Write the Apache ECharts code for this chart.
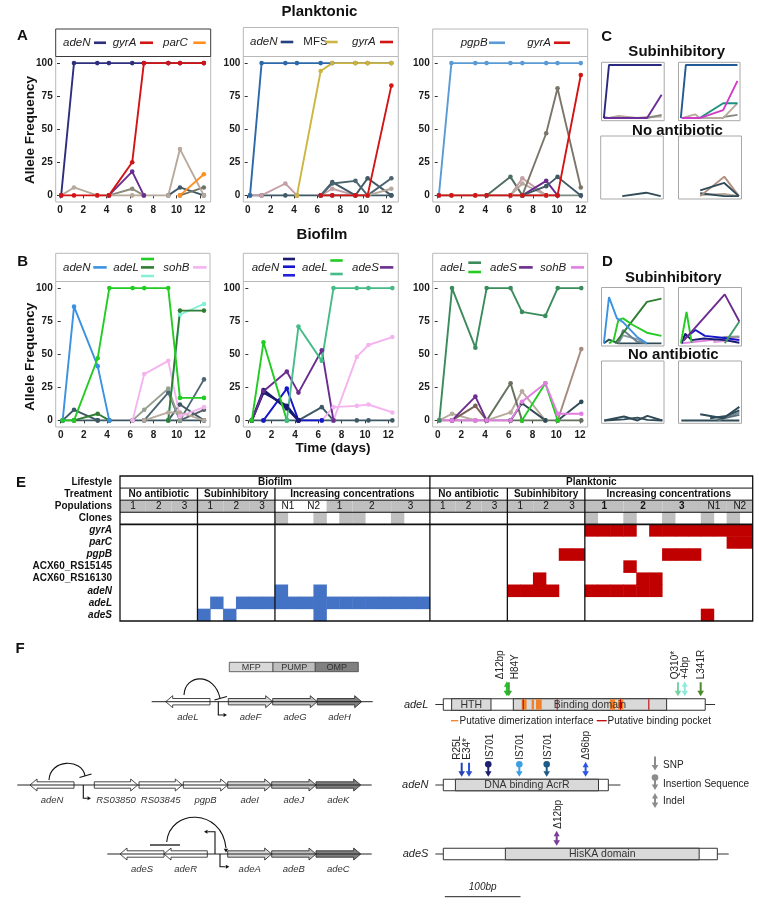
<!DOCTYPE html>
<html><head><meta charset="utf-8">
<script src="https://cdn.jsdelivr.net/npm/echarts@6/dist/echarts.min.js"></script>
<style>html,body{margin:0;padding:0;background:#fff}#c{width:759px;height:905px}</style>
</head><body><div id="c"></div>
<script>
const FONT = 'Liberation Sans, Arial, sans-serif';

// ---------------- Panel A (Planktonic) data ----------------
const xA1 = [0.1,1.2,3.2,4.2,6.2,7.2,9.3,10.3,12.35];
const A1_adeN  = [0,100,100,100,100,100,100,100,100];
const A1_gyrA  = [0,0,0,0,25,100,100,100,100];
const A1_parC  = [null,null,null,null,null,null,null,0,16];
const A1_purple= [null,null,null,0,18,0,null,null,null];
const A1_beige = [0,6,0,0,0,0,0,35,0];
const A1_olive = [null,null,null,0,5,0,null,null,null];
const A1_slate1= [null,null,null,null,null,null,0,6,0];
const A1_slate2= [null,null,null,null,null,null,null,0,6];

const xA2 = [0.2,1.2,3.25,4.25,6.3,7.3,9.3,10.35,12.4];
const A2_adeN  = [0,100,100,100,100,100,100,100,100];
const A2_MFS   = [null,null,null,0,94,100,100,100,100];
const A2_gyrA  = [null,null,null,null,0,0,0,0,83];
const A2_mauve1= [0,0,9,0,null,null,null,null,null];
const A2_mauve2= [null,null,null,null,0,5,0,null,null];
const A2_base  = [0,0,0,0,0,0,0,0,0];
const A2_slate1= [null,null,null,null,0,10,0,13,0];
const A2_slate2= [null,null,null,null,0,9,11,0,13];
const A2_beige = [null,null,null,null,null,null,null,0,5];

const xA3 = [0.1,1.15,3.15,4.1,6.1,7.1,9.1,10.05,12.0];
const A3_pgpB  = [0,100,100,100,100,100,100,100,100];
const A3_gyrA  = [0,0,0,0,0,0,0,0,91];
const A3_brown = [null,null,null,null,null,0,47,81,6];
const A3_green = [null,null,null,0,14,0,null,null,null];
const A3_mauve = [null,null,null,null,0,13,0,null,null];
const A3_beige = [null,null,null,null,0,9,0,null,null];
const A3_purple= [null,null,null,null,null,0,11,0,null];
const A3_slate = [null,null,null,null,null,0,7,14,0];
const A3_base  = [0,0,0,0,0,0,0,0,0];

// ---------------- Panel B (Biofilm) data ----------------
const xB1 = [0.17,1.15,3.19,4.19,6.2,7.2,9.27,10.28,12.35];
const B1_adeN  = [0,86,41,0,null,null,null,null,null];
const B1_adeL1 = [0,0,47,100,100,100,100,17,17];
const B1_adeL2 = [null,0,5,0,null,null,0,83,83];
const B1_adeL3 = [null,null,null,null,null,null,0,80,88];
const B1_sohB  = [null,null,null,null,0,35,45,3,10];
const B1_slate1= [0,8,0,null,null,null,null,null,null];
const B1_slateA= [null,null,null,null,null,0,21,0,31];
const B1_slateB= [null,null,null,null,null,null,0,12,0];
const B1_slateC= [null,null,null,null,null,null,null,0,8];
const B1_gray  = [null,null,null,null,0,8,24,0,null];
const B1_beige = [null,null,null,null,null,0,6,6,0];
const B1_base  = [0,0,0,0,0,0,0,0,0];

const xB2 = [0.3,1.3,3.3,4.3,6.3,7.3,9.3,10.3,12.35];
const B2_adeL1 = [0,59,0,null,null,null,null,null,null];
const B2_adeL2 = [null,null,0,71,45,100,100,100,100];
const B2_adeS  = [0,22,37,21,53,0,null,null,null];
const B2_adeN1 = [0,23,9,0,null,null,null,null,null];
const B2_adeN2 = [0,21,11,0,null,null,null,null,null];
const B2_adeN3 = [null,0,24,0,0,null,null,null,null];
const B2_sohB1 = [null,null,null,null,null,0,48,57,63];
const B2_sohB2 = [null,null,null,null,0,10,11,12,6];
const B2_slate = [null,null,null,0,10,0,null,null,null];
const B2_base  = [0,0,0,0,0,0,0,0,0];

const xB3 = [0.14,1.21,3.18,4.13,6.15,7.11,9.08,10.12,12.11];
const B3_adeL1 = [0,100,55,100,100,82,79,100,100];
const B3_adeL2 = [null,null,null,null,null,0,28,0,null];
const B3_adeS  = [null,0,18,0,null,null,null,null,null];
const B3_sohB  = [0,0,0,0,0,14,28,5,5];
const B3_brown = [null,null,null,null,null,null,null,0,54];
const B3_olive = [null,null,null,0,28,0,null,null,null];
const B3_beige1= [0,5,0,null,null,null,null,null,null];
const B3_beige2= [null,null,null,0,6,22,0,null,null];
const B3_brown2= [null,0,11,0,null,null,null,null,null];
const B3_slate1= [null,null,null,null,0,13,0,null,null];
const B3_slate2= [null,null,null,null,null,null,null,0,14];
const B3_base  = [0,0,0,0,0,0,0,0,0];

// ---------------- Panels C / D small multiples ([day, frequency]) ----------------
const C1_navy   = [[0.1,0],[1.2,100],[3.2,100],[4.2,100],[6.2,100],[7.2,100],[9.3,100],[10.3,100],[12.4,100]];
const C1_purple = [[0.1,0],[9.3,0],[12.4,44]];
const C1_beige  = [[0.1,3],[1.2,0],[3.2,4],[4.2,3],[7.2,0],[9.3,2],[12.4,3]];
const C1_gray   = [[9.3,0],[12.4,6]];
const C2_blue   = [[0.1,0],[1.2,100],[3.2,100],[4.2,100],[6.2,100],[7.2,100],[9.3,100],[10.3,100],[12.4,100]];
const C2_magenta= [[0.3,0],[4.2,0],[9.3,15],[12.4,70]];
const C2_teal   = [[4.2,0],[9.3,28],[12.4,28]];
const C2_beige  = [[0.3,0],[3.2,7],[4.2,0],[9.3,0],[12.4,28]];
const C2_gray   = [[9.3,2],[12.4,6]];
const C3_slate  = [[4.2,0],[9.3,6],[12.4,0]];
const C4_mauve  = [[4.2,0],[9.3,34],[12.4,0]];
const C4_slate1 = [[4.2,10],[9.3,23],[12.4,0]];
const C4_slate2 = [[4.2,5],[9.3,0],[12.4,0]];
const C4_beige  = [[4.2,2],[9.3,4],[12.4,0]];

const D1_blue   = [[0.1,0],[1.2,87],[2.9,47],[4.2,40],[7.2,12],[9.3,0]];
const D1_green  = [[1.2,0],[2.2,6],[3.2,44],[4.2,47],[6.2,35],[9.3,20],[12.4,14]];
const D1_dgreen = [[2.5,0],[9.3,78],[12.4,84]];
const D1_gray1  = [[3.2,0],[4.2,25],[7.2,3],[9.3,0]];
const D1_gray2  = [[3.2,0],[4.2,15],[7.2,8],[9.3,0]];
const D1_slate  = [[0.1,0],[1.2,7],[3.2,0],[12.4,0]];
const D2_purple = [[0.7,5],[9.4,92],[12.5,41]];
const D2_green  = [[0.1,0],[1.3,59],[2.4,1]];
const D2_sgreen = [[9.4,0],[12.5,41]];
const D2_navy   = [[0.3,0],[1.0,18],[2.4,6],[5.0,9],[9.4,6],[12.5,1]];
const D2_blue   = [[1.0,10],[3.2,25],[5.2,14],[9.4,10],[12.5,6]];
const D2_violet = [[0.1,0],[12.5,12]];
const D2_gray   = [[7.0,5],[9.4,12],[12.5,13]];
const D2_pink   = [[7.0,2],[12.5,8]];
const D3_s1     = [[0.2,0],[4.4,7],[7.3,0],[9.4,8],[12.6,0]];
const D3_s2     = [[0.2,0],[4.4,2],[7.3,5],[9.4,1],[12.6,0]];
const D4_s1     = [[4.2,11],[9.1,4],[12.5,24]];
const D4_s2     = [[6.3,4],[9.8,8],[12.5,18]];
const D4_s3     = [[7.7,1],[12.5,10]];
const D4_s4     = [[0.2,0],[12.5,0]];
const D4_s5     = [[8.0,0],[10.0,6],[12.5,14]];

// ---------------- Panel E (table) data ----------------
const eRows = ['Lifestyle','Treatment','Populations','Clones','gyrA','parC','pgpB','ACX60_RS15145','ACX60_RS16130','adeN','adeL','adeS'];
const eUnits = Array.from({length:49},(_,i)=>String(i));
const eLifestyle = [['Biofilm',0,23],['Planktonic',24,48]];
const eTreatment = [['No antibiotic',0,5],['Subinhibitory',6,11],['Increasing concentrations',12,23],['No antibiotic',24,29],['Subinhibitory',30,35],['Increasing concentrations',36,48]];
const ePopulations = [['1',0,1],['2',2,3],['3',4,5],['1',6,7],['2',8,9],['3',10,11],['N1',12,13],['N2',14,15],['1',16,17],['2',18,20],['3',21,23],['1',24,25],['2',26,27],['3',28,29],['1',30,31],['2',32,33],['3',34,35],['1',36,38],['2',39,41],['3',42,44],['N1',45,46],['N2',47,48]];
const eCloneCells = [12,15,17,18,21,36,39,42,45,47];
// [geneRow (0 = gyrA), firstUnit, lastUnit]
const eBlue = [[5,12,12],[5,15,15],[6,7,7],[6,9,23],[7,6,6],[7,8,8],[7,15,15]];
const eRed  = [[0,36,39],[0,41,48],[1,47,48],[2,34,35],[2,42,44],[3,39,39],[4,32,32],[4,40,41],[5,30,33],[5,36,41],[7,45,45]];

// ---------------- Panel F data ----------------
const fTrackY = [704.5, 785, 854];
const fGeneName = ['adeL','adeN','adeS'];
const fGeneLen = [346, 218, 362];
const fStubRight = [13, 16, 15];
const fDomTrack = [0,0,1,2];
const fDomStart = [11, 92.5, 16, 82];
const fDomEnd   = [63, 295, 205, 338];
const fDomText  = ['HTH','Binding domain','DNA binding AcrR','HisKA domain'];
const fDimer = [[103.5,110],[116.7,119.8],[122.5,130],[220,226.8],[231,237.8]];
const fPocket = [104.9,149.8,233.4,270.8];
const fMutTrack = [0,0,0,0,0,1,1,1,1,1,1,2];
const fMutPos   = [84,86.5,310,319,340,24.3,34,59.4,100.4,136.6,188,149.8];
const fMutLabelPos = [75,95,306,319.5,341,18.5,31.7,61.7,101.3,138.7,189.4,152];
const fMutLabel = ['Δ12bp','H84Y','Q310*','+4bp','L341R','R25L','E34*','IS701','IS701','IS701','Δ96bp','Δ12bp'];
const fMutType  = [2,0,0,2,0,0,0,1,1,1,2,2]; // 0 SNP, 1 insertion sequence, 2 indel
const fMutColor = ['#22c322','#3aa63a','#72d2a4','#8eeadb','#4b8b2b','#2342b5','#2b52d2','#1d206e','#3c9fe4','#1f5b88','#2b56e0','#7b3b99'];

// operon schematic
const opTrackY = [701.7, 785, 854];
const opLine = [[151.7,372.7],[17.3,371.7],[107.3,371.7]];
const opGenes = [
 [0,'adeL',165.7,210,-1,0],[0,'adeF',228.3,272.7,1,1],[0,'adeG',272.7,317.3,1,2],[0,'adeH',317.3,361.7,1,3],
 [1,'adeN',30,74,-1,0],[1,'RS03850',94.3,137.7,1,0],[1,'RS03845',139,182.3,1,0],[1,'pgpB',183.3,227.7,1,0],
 [1,'adeI',227.7,271.7,1,1],[1,'adeJ',271.7,316,1,2],[1,'adeK',316,360.7,1,3],
 [2,'adeS',120,164,-1,0],[2,'adeR',164,207.3,-1,0],[2,'adeA',227.7,271.7,1,1],[2,'adeB',271.7,316,1,2],[2,'adeC',316,360.7,1,3]
];
const opFill = ['#ffffff','#d9d9d9','#bdbdbd','#7f7f7f'];

// ---------------- helpers ----------------
const G = [];
function T(text,x,y,o){o=o||{};G.push({type:'text',x:x,y:y,rotation:o.rot||0,silent:true,z:100,style:{text:text,fill:o.color||'#111',fontSize:o.size||10,fontWeight:o.bold?'bold':'normal',fontStyle:o.italic?'italic':'normal',fontFamily:FONT,align:o.align||'center',verticalAlign:o.va||'middle'}});}
function Ln(x1,y1,x2,y2,c,w){G.push({type:'line',silent:true,z:100,shape:{x1:x1,y1:y1,x2:x2,y2:y2},style:{stroke:c,lineWidth:w||1}});}
function Rc(x,y,w,h,fill,stroke,lw){G.push({type:'rect',silent:true,z:90,shape:{x:x,y:y,width:w,height:h},style:{fill:fill,stroke:stroke||null,lineWidth:lw||1}});}

const grids = [
 {left:55.7,top:56.5,width:155,height:145.5},
 {left:243.3,top:56.5,width:155,height:145.5},
 {left:432.7,top:56.5,width:155,height:145.5},
 {left:55.7,top:281.5,width:154.3,height:145.5},
 {left:243.3,top:281.5,width:155,height:145.5},
 {left:432.7,top:281.5,width:155,height:145.5},
 {left:601.5,top:62.3,width:62.7,height:58.4},
 {left:678.5,top:62.3,width:61.5,height:58.4},
 {left:600.7,top:136,width:62.6,height:63},
 {left:678.5,top:136,width:63,height:63},
 {left:601.5,top:287.5,width:62.5,height:58.5},
 {left:678.5,top:287.5,width:63,height:58.5},
 {left:601.5,top:361,width:62.5,height:62.3},
 {left:678.5,top:361,width:63,height:62.3},
 {left:120,top:476,width:632.7,height:145},
 {left:443.3,top:640,width:300,height:265}
];
const xRanges = [[-0.37,12.94],[-0.38,13.0],[-0.42,12.58],[-0.43,12.87],[-0.43,12.86],[-0.42,12.65]];
const xTicks = [0,2,4,6,8,10,12];
const yTicks = [0,25,50,75,100];

const gridOpts = grids.map((g,i)=>Object.assign({}, g, {
  show: i<14, borderColor: i<6 ? '#b8b8b8' : '#a8a8a8', borderWidth:1, backgroundColor:'transparent',
  containLabel:false, outerBoundsMode:'none'
}));

const xAxes = [], yAxes = [];
for (let i=0;i<6;i++){
  xAxes.push({type:'value',gridIndex:i,min:xRanges[i][0],max:xRanges[i][1],axisLine:{show:false},splitLine:{show:false},
    axisTick:{show:true,length:3,lineStyle:{color:'#333',width:1},customValues:xTicks},
    axisLabel:{show:true,customValues:xTicks,fontSize:10,fontWeight:'bold',color:'#1a1a1a',margin:3,fontFamily:FONT}});
  yAxes.push({type:'value',gridIndex:i,min:-5,max:105,axisLine:{show:false},splitLine:{show:false},
    axisTick:{show:true,length:3,lineStyle:{color:'#333',width:1},customValues:yTicks},
    axisLabel:{show:true,customValues:yTicks,fontSize:10,fontWeight:'bold',color:'#1a1a1a',margin:3,fontFamily:FONT}});
}
for (let i=6;i<14;i++){
  xAxes.push({type:'value',gridIndex:i,min:-0.4,max:12.95,show:false});
  yAxes.push({type:'value',gridIndex:i,min:-5,max:105,show:false});
}
const italicRows = new Set(['gyrA','parC','pgpB','adeN','adeL','adeS']);
xAxes.push({type:'category',gridIndex:14,data:eUnits,show:false});
yAxes.push({type:'category',gridIndex:14,data:eRows,inverse:true,axisLine:{show:false},axisTick:{show:false},splitLine:{show:false},
  axisLabel:{margin:8,interval:0,hideOverlap:false,formatter:v=>italicRows.has(v)?'{i|'+v+'}':'{b|'+v+'}',
    rich:{i:{fontStyle:'italic',fontWeight:'bold',fontSize:10,color:'#111',fontFamily:FONT},b:{fontWeight:'bold',fontSize:10,color:'#111',fontFamily:FONT}}}});
xAxes.push({type:'value',gridIndex:15,min:0,max:300/0.757,show:false});
yAxes.push({type:'value',gridIndex:15,min:640,max:905,inverse:true,show:false});

const series = [];
function addLine(gi,xs,vals,color,w){
  series.push({type:'line',xAxisIndex:gi,yAxisIndex:gi,silent:true,animation:false,
    data:xs.map((x,i)=>[x, vals[i]==null?'-':vals[i]]),
    lineStyle:{color:color,width:w||1.9},itemStyle:{color:color},symbol:'circle',symbolSize:4.6,showSymbol:true,connectNulls:false});
}
function addSmall(gi,pairs,color,w){
  series.push({type:'line',xAxisIndex:gi,yAxisIndex:gi,silent:true,animation:false,data:pairs,
    lineStyle:{color:color,width:w||1.9},itemStyle:{color:color},showSymbol:false,symbol:'none'});
}
const C = {navy:'#2d2e7e',red:'#d21414',orange:'#ff8f1f',purple:'#6b2c8f',beige:'#b7a99b',olive:'#8c8b78',slate:'#3f5866',
  blueA:'#2c69a9',gold:'#cdb543',mauve:'#c4a0a6',lblue:'#5b9bd5',brownGray:'#7b766a',greenGray:'#4f6e62',base:'#7d8b82',
  skyB:'#3a92e0',green:'#22cc22',dgreen:'#2f7d32',aqua:'#86f0d6',pink:'#f4b4ef',gray:'#95a08f',navyB:'#1a1a70',blueB:'#1515cc',
  mgreen:'#45bb85',sea:'#3a8c5c',violet:'#e27ee2',brown:'#a58a7d',olive2:'#66705e',brown2:'#7a6058',slate2:'#2f4b57'};

// A1
addLine(0,xA1,A1_olive,C.olive); addLine(0,xA1,A1_slate1,C.slate); addLine(0,xA1,A1_slate2,'#6f7468');
addLine(0,xA1,A1_beige,C.beige); addLine(0,xA1,A1_purple,C.purple); addLine(0,xA1,A1_parC,C.orange);
addLine(0,xA1,A1_adeN,C.navy); addLine(0,xA1,A1_gyrA,C.red);
// A2
addLine(1,xA2,A2_base,C.slate); addLine(1,xA2,A2_mauve1,C.mauve); addLine(1,xA2,A2_mauve2,C.mauve);
addLine(1,xA2,A2_slate1,C.slate); addLine(1,xA2,A2_slate2,'#4a6470'); addLine(1,xA2,A2_beige,C.beige);
addLine(1,xA2,A2_adeN,C.blueA); addLine(1,xA2,A2_MFS,C.gold); addLine(1,xA2,A2_gyrA,C.red);
// A3
addLine(2,xA3,A3_base,C.base); addLine(2,xA3,A3_green,C.greenGray); addLine(2,xA3,A3_mauve,C.mauve);
addLine(2,xA3,A3_beige,C.beige); addLine(2,xA3,A3_purple,C.purple); addLine(2,xA3,A3_slate,C.slate);
addLine(2,xA3,A3_brown,C.brownGray); addLine(2,xA3,A3_pgpB,C.lblue); addLine(2,xA3,A3_gyrA,C.red);
// B1
addLine(3,xB1,B1_base,C.slate); addLine(3,xB1,B1_slate1,C.slate); addLine(3,xB1,B1_slateA,'#4d6874');
addLine(3,xB1,B1_slateB,C.slate); addLine(3,xB1,B1_slateC,'#56626a'); addLine(3,xB1,B1_gray,C.gray);
addLine(3,xB1,B1_beige,C.beige); addLine(3,xB1,B1_sohB,C.pink); addLine(3,xB1,B1_adeL3,C.aqua);
addLine(3,xB1,B1_adeL2,C.dgreen); addLine(3,xB1,B1_adeN,C.skyB); addLine(3,xB1,B1_adeL1,C.green);
// B2
addLine(4,xB2,B2_base,C.slate); addLine(4,xB2,B2_slate,C.slate); addLine(4,xB2,B2_sohB2,C.pink);
addLine(4,xB2,B2_sohB1,C.pink); addLine(4,xB2,B2_adeN3,C.blueB); addLine(4,xB2,B2_adeN1,C.navyB,2.3);
addLine(4,xB2,B2_adeN2,C.navyB,2.3); addLine(4,xB2,B2_adeS,C.purple); addLine(4,xB2,B2_adeL1,C.green);
addLine(4,xB2,B2_adeL2,C.mgreen);
// B3
addLine(5,xB3,B3_base,C.olive2); addLine(5,xB3,B3_beige1,C.beige); addLine(5,xB3,B3_brown2,C.brown2);
addLine(5,xB3,B3_beige2,C.beige); addLine(5,xB3,B3_olive,C.olive2); addLine(5,xB3,B3_slate1,C.slate2);
addLine(5,xB3,B3_slate2,C.slate2); addLine(5,xB3,B3_brown,C.brown); addLine(5,xB3,B3_adeS,C.purple);
addLine(5,xB3,B3_adeL2,C.green); addLine(5,xB3,B3_sohB,C.violet); addLine(5,xB3,B3_adeL1,C.sea);
// C
addSmall(6,C1_beige,C.beige); addSmall(6,C1_gray,'#8a8a80'); addSmall(6,C1_purple,'#6a2d9a'); addSmall(6,C1_navy,'#2a2a80');
addSmall(7,C2_gray,'#8a8a80'); addSmall(7,C2_beige,C.beige); addSmall(7,C2_teal,'#1f9080'); addSmall(7,C2_magenta,'#d03cc8'); addSmall(7,C2_blue,'#235a96');
addSmall(8,C3_slate,C.slate2);
addSmall(9,C4_beige,C.beige); addSmall(9,C4_slate2,C.slate2); addSmall(9,C4_mauve,'#b09080'); addSmall(9,C4_slate1,C.slate2);
// D
addSmall(10,D1_slate,C.slate2); addSmall(10,D1_gray2,'#8a99a0'); addSmall(10,D1_gray1,'#6a8090'); addSmall(10,D1_dgreen,C.dgreen);
addSmall(10,D1_green,C.green); addSmall(10,D1_blue,C.skyB);
addSmall(11,D2_violet,C.violet); addSmall(11,D2_pink,'#e8a0e0'); addSmall(11,D2_gray,'#8a9a90'); addSmall(11,D2_navy,C.navyB);
addSmall(11,D2_blue,C.blueB); addSmall(11,D2_green,C.green); addSmall(11,D2_sgreen,'#3f9a6a'); addSmall(11,D2_purple,C.purple);
addSmall(12,D3_s2,C.slate2); addSmall(12,D3_s1,C.slate2);
addSmall(13,D4_s4,C.slate2); addSmall(13,D4_s5,'#7a8a90'); addSmall(13,D4_s3,'#56707a'); addSmall(13,D4_s2,C.slate2); addSmall(13,D4_s1,C.slate2);

// ---------------- Panel E series ----------------
const eCells = [];
eCloneCells.forEach(u=>eCells.push([u,3,3]));
eBlue.forEach(([g,a,b])=>{for(let u=a;u<=b;u++) eCells.push([u,g+4,1]);});
eRed.forEach(([g,a,b])=>{for(let u=a;u<=b;u++) eCells.push([u,g+4,2]);});
const heatIndex = series.length;
series.push({type:'heatmap',xAxisIndex:14,yAxisIndex:14,data:eCells,silent:true,animation:false,itemStyle:{borderWidth:0},emphasis:{disabled:true}});

const headCells = [];
eLifestyle.forEach(([t,a,b])=>headCells.push({t,a,b,row:0,fill:'#ffffff',bold:true}));
eTreatment.forEach(([t,a,b])=>headCells.push({t,a,b,row:1,fill:'#ffffff',bold:true}));
ePopulations.forEach(([t,a,b])=>headCells.push({t,a,b,row:2,fill:(a>=12&&a<=15)?'#ffffff':'#bfbfbf',bold:(a>=36&&a<=44)}));
series.push({type:'custom',xAxisIndex:14,yAxisIndex:14,silent:true,animation:false,clip:false,encode:{x:[0,1],y:2},
  data:headCells.map((c,i)=>[c.a,c.b,c.row,i]),
  renderItem:function(params,api){
    const c = headCells[api.value(3)];
    const s = api.size([1,1]);
    const p0 = api.coord([api.value(0),api.value(2)]), p1 = api.coord([api.value(1),api.value(2)]);
    const L = p0[0]-s[0]/2, R = p1[0]+s[0]/2, Tp = p0[1]-s[1]/2;
    return {type:'group',children:[
      {type:'rect',shape:{x:L,y:Tp,width:R-L,height:s[1]},style:{fill:c.fill}},
      {type:'text',style:{text:c.t,x:(L+R)/2,y:Tp+s[1]/2+0.5,align:'center',verticalAlign:'middle',fontSize:10,fontWeight:c.bold?'bold':'normal',fill:'#111',fontFamily:FONT}}
    ]};
  }});
series.push({type:'custom',xAxisIndex:14,yAxisIndex:14,silent:true,animation:false,clip:false,z:5,data:[[0,0]],
  renderItem:function(params,api){
    const s = api.size([1,1]);
    const c0 = api.coord([0,0]);
    const L = c0[0]-s[0]/2, Tp = c0[1]-s[1]/2, R = L+49*s[0], B = Tp+12*s[1];
    const X = u=>L+u*s[0], Y = r=>Tp+r*s[1];
    const ch = [{type:'rect',shape:{x:L,y:Tp,width:R-L,height:B-Tp},style:{fill:null,stroke:'#111',lineWidth:1.3}}];
    [1,2,3].forEach(r=>ch.push({type:'line',shape:{x1:L,y1:Y(r),x2:R,y2:Y(r)},style:{stroke:'#111',lineWidth:1}}));
    ch.push({type:'line',shape:{x1:L,y1:Y(4),x2:R,y2:Y(4)},style:{stroke:'#111',lineWidth:1.6}});
    ch.push({type:'line',shape:{x1:X(24),y1:Tp,x2:X(24),y2:B},style:{stroke:'#111',lineWidth:1.3}});
    [6,12,30,36].forEach(u=>ch.push({type:'line',shape:{x1:X(u),y1:Y(1),x2:X(u),y2:B},style:{stroke:'#111',lineWidth:1.3}}));
    return {type:'group',children:ch};
  }});

// ---------------- Panel F series ----------------
function glyph(x,tip,type,color){
  const top = tip-14, ch=[];
  ch.push({type:'line',shape:{x1:x,y1:top+(type===0?0:2),x2:x,y2:tip-4},style:{stroke:color,lineWidth:2}});
  ch.push({type:'polygon',shape:{points:[[x-3.3,tip-5.5],[x+3.3,tip-5.5],[x,tip]]},style:{fill:color}});
  if(type===1) ch.push({type:'circle',shape:{cx:x,cy:top+1.5,r:3.3},style:{fill:color}});
  if(type===2) ch.push({type:'polygon',shape:{points:[[x-3,top+4.5],[x+3,top+4.5],[x,top-1]]},style:{fill:color}});
  return ch;
}
const BOXH = 11.5;
series.push({type:'custom',xAxisIndex:15,yAxisIndex:15,silent:true,animation:false,clip:false,z:2,
  data:fGeneLen.map((l,i)=>[l,fTrackY[i]]),
  renderItem:function(params,api){
    const i = params.dataIndex, len = api.value(0), ty = api.value(1);
    const p0 = api.coord([0,ty]), p1 = api.coord([len,ty]);
    const pl = api.coord([-10.5,ty]), pr = api.coord([len+fStubRight[i],ty]);
    const y = p0[1];
    return {type:'group',children:[
      {type:'line',shape:{x1:pl[0],y1:y,x2:p0[0],y2:y},style:{stroke:'#333',lineWidth:1}},
      {type:'line',shape:{x1:p1[0],y1:y,x2:pr[0],y2:y},style:{stroke:'#333',lineWidth:1}},
      {type:'rect',shape:{x:p0[0],y:y-BOXH/2,width:p1[0]-p0[0],height:BOXH},style:{fill:'#fff',stroke:'#333',lineWidth:1}},
      {type:'text',style:{text:fGeneName[i],x:pl[0]-7,y:y,align:'right',verticalAlign:'middle',fontSize:11,fontStyle:'italic',fill:'#222',fontFamily:FONT}}
    ]};
  }});
series.push({type:'custom',xAxisIndex:15,yAxisIndex:15,silent:true,animation:false,clip:false,z:3,encode:{x:[0,1],y:2},
  data:fDomStart.map((s,i)=>[s,fDomEnd[i],fTrackY[fDomTrack[i]]]),
  renderItem:function(params,api){
    const p0 = api.coord([api.value(0),api.value(2)]), p1 = api.coord([api.value(1),api.value(2)]);
    return {type:'rect',shape:{x:p0[0],y:p0[1]-BOXH/2,width:p1[0]-p0[0],height:BOXH},style:{fill:'#d9d9d9',stroke:'#333',lineWidth:1}};
  }});
series.push({type:'custom',xAxisIndex:15,yAxisIndex:15,silent:true,animation:false,clip:false,z:4,encode:{x:[0,1],y:2},
  data:fDimer.map(d=>[d[0],d[1],fTrackY[0],0]).concat(fPocket.map(p=>[p,p+1.4,fTrackY[0],1])),
  renderItem:function(params,api){
    const p0 = api.coord([api.value(0),api.value(2)]), p1 = api.coord([api.value(1),api.value(2)]);
    return {type:'rect',shape:{x:p0[0],y:p0[1]-BOXH/2+0.6,width:Math.max(1,p1[0]-p0[0]),height:BOXH-1.2},style:{fill:api.value(3)===1?'#c00000':'#f0802a'}};
  }});
series.push({type:'custom',xAxisIndex:15,yAxisIndex:15,silent:true,animation:false,clip:false,z:5,encode:{x:[0,1],y:2},
  data:fDomStart.map((s,i)=>[s,fDomEnd[i],fTrackY[fDomTrack[i]]]),
  renderItem:function(params,api){
    const p0 = api.coord([api.value(0),api.value(2)]), p1 = api.coord([api.value(1),api.value(2)]);
    return {type:'text',style:{text:fDomText[params.dataIndex],x:(p0[0]+p1[0])/2,y:p0[1]+0.5,align:'center',verticalAlign:'middle',fontSize:10.5,fill:'#333',fontFamily:FONT}};
  }});
series.push({type:'custom',xAxisIndex:15,yAxisIndex:15,silent:true,animation:false,clip:false,z:6,
  data:fMutPos.map((p,i)=>[p,fTrackY[fMutTrack[i]],fMutLabelPos[i]]),
  renderItem:function(params,api){
    const i = params.dataIndex;
    const p = api.coord([api.value(0),api.value(1)]);
    const pl = api.coord([api.value(2),api.value(1)]);
    const tip = p[1]-BOXH/2-2.5;
    const ch = glyph(p[0],tip,fMutType[i],fMutColor[i]);
    ch.push({type:'text',x:pl[0],y:tip-17,rotation:Math.PI/2,style:{text:fMutLabel[i],x:0,y:0,align:'left',verticalAlign:'middle',fontSize:10,fill:'#222',fontFamily:FONT}});
    return {type:'group',children:ch};
  }});
series.push({type:'custom',xAxisIndex:15,yAxisIndex:15,silent:true,animation:false,clip:false,z:6,encode:{x:[0,1],y:2},
  data:[[2,102,896.7]],
  renderItem:function(params,api){
    const p0 = api.coord([api.value(0),api.value(2)]), p1 = api.coord([api.value(1),api.value(2)]);
    return {type:'group',children:[
      {type:'line',shape:{x1:p0[0],y1:p0[1],x2:p1[0],y2:p1[1]},style:{stroke:'#222',lineWidth:1}},
      {type:'text',style:{text:'100bp',x:(p0[0]+p1[0])/2,y:p0[1]-9,align:'center',verticalAlign:'middle',fontSize:10,fontStyle:'italic',fill:'#222',fontFamily:FONT}}
    ]};
  }});

// ---------------- graphic: titles, legends, schematic ----------------
T('Planktonic',319.5,11.5,{bold:true,size:15});
T('Biofilm',322,234.5,{bold:true,size:15});
T('Time (days)',333,448.5,{bold:true,size:13.5});
T('Allele Frequency',30,130,{bold:true,size:13.5,rot:Math.PI/2});
T('Allele Frequency',30,356.7,{bold:true,size:13.5,rot:Math.PI/2});
T('A',22.3,36,{bold:true,size:15}); T('B',22.7,262.3,{bold:true,size:15});
T('C',606.7,37.3,{bold:true,size:15}); T('D',607.5,262,{bold:true,size:15});
T('E',21,482.7,{bold:true,size:15}); T('F',20,649,{bold:true,size:15});
T('Subinhibitory',676.7,51.7,{bold:true,size:15}); T('No antibiotic',677.5,130.5,{bold:true,size:15});
T('Subinhibitory',673.3,277.5,{bold:true,size:15}); T('No antibiotic',673.3,354.7,{bold:true,size:15});

const legendBoxes = [
 {x0:55.7,x1:210.7,y0:29,y1:56.5,stroke:'#3a3a3a',items:[
   {t:'adeN',x:63,l:[[94,106,C.navy,0]]},{t:'gyrA',x:112.7,l:[[140,153,C.red,0]]},{t:'parC',x:163,l:[[193.3,205.7,C.orange,0]]}]},
 {x0:243.3,x1:398.3,y0:27.5,y1:56.5,stroke:'#b8b8b8',items:[
   {t:'adeN',x:250,l:[[280.7,293.3,'#24407e',0]]},{t:'MFS',x:303.3,plain:true,l:[[325,337.7,C.gold,0]]},{t:'gyrA',x:352,l:[[380,393,C.red,0]]}]},
 {x0:432.7,x1:587.7,y0:29,y1:56.5,stroke:'#b8b8b8',items:[
   {t:'pgpB',x:460.7,l:[[489,505,C.lblue,0]]},{t:'gyrA',x:527.3,l:[[554,570,C.red,0]]}]},
 {x0:55.7,x1:210,y0:253.3,y1:281.5,stroke:'#b8b8b8',items:[
   {t:'adeN',x:63,l:[[93.3,106.7,C.skyB,0]]},{t:'adeL',x:113.3,l:[[141,154,C.green,-8.4],[141,154,C.dgreen,0],[141,154,C.aqua,8.6]]},
   {t:'sohB',x:163.3,l:[[193,206.7,C.pink,0]]}]},
 {x0:243.3,x1:398.3,y0:253.3,y1:281.5,stroke:'#b8b8b8',items:[
   {t:'adeN',x:251.7,l:[[283,295,C.navyB,-8.4],[283,295,C.blueB,-0.7],[283,295,'#2222dd',7.9]]},
   {t:'adeL',x:302,l:[[330.3,342.7,C.green,-6.9],[330.3,342.7,C.mgreen,6.6]]},{t:'adeS',x:352,l:[[380,393.3,C.purple,0]]}]},
 {x0:432.7,x1:587.7,y0:253.3,y1:281.5,stroke:'#b8b8b8',items:[
   {t:'adeL',x:440,l:[[468.3,481,C.sea,-4.7],[468.3,481,C.green,4.6]]},{t:'adeS',x:490,l:[[519,532.7,C.purple,0]]},
   {t:'sohB',x:540,l:[[571,584,C.violet,0]]}]}
];
legendBoxes.forEach(b=>{
  Rc(b.x0,b.y0,b.x1-b.x0,b.y1-b.y0,'#fff',b.stroke,1);
  const cy = (b.y0+b.y1)/2;
  b.items.forEach(it=>{
    T(it.t,it.x,cy,{size:11.5,italic:!it.plain,align:'left',color:'#222'});
    it.l.forEach(l=>Ln(l[0],cy+l[3],l[1],cy+l[3],l[2],2.6));
  });
});

// Panel F legend bits
Ln(451,720.7,458.3,720.7,'#f0802a',1.3); T('Putative dimerization interface',459.5,721,{align:'left',size:10,color:'#222'});
Ln(596.7,720.7,606.7,720.7,'#c00000',1.3); T('Putative binding pocket',607.5,721,{align:'left',size:10,color:'#222'});
[[0,770.5,'SNP',765.7],[1,790,'Insertion Sequence',784],[2,808,'Indel',801.7]].forEach(k=>{
  glyph(655,k[1],k[0],'#8c8c8c').forEach(e=>{e.silent=true;e.z=100;G.push(e);});
  T(k[2],663,k[3],{align:'left',size:10,color:'#222'});
});

// MFP / PUMP / OMP bar
[[229.3,273,'#d9d9d9','MFP'],[273,315.3,'#bdbdbd','PUMP'],[315.3,358.3,'#808080','OMP']].forEach(s=>{
  Rc(s[0],662.3,s[1]-s[0],9.4,s[2],'#444',0.8); T(s[3],(s[0]+s[1])/2,667.2,{size:9,color:'#333'});
});
// operon lines + genes
opTrackY.forEach((y,k)=>Ln(opLine[k][0],y,opLine[k][1],y,'#222',1));
function arrowPts(x0,x1,y,dir){
  const bh=3.2, hh=6, hl=7;
  if(dir>0) return [[x0,y-bh],[x1-hl,y-bh],[x1-hl,y-hh],[x1,y],[x1-hl,y+hh],[x1-hl,y+bh],[x0,y+bh]];
  return [[x1,y-bh],[x0+hl,y-bh],[x0+hl,y-hh],[x0,y],[x0+hl,y+hh],[x0+hl,y+bh],[x1,y+bh]];
}
opGenes.forEach(g=>{
  const y = opTrackY[g[0]];
  G.push({type:'polygon',silent:true,z:95,shape:{points:arrowPts(g[2],g[3],y,g[4])},style:{fill:opFill[g[5]],stroke:'#333',lineWidth:0.9}});
  T(g[1],(g[2]+g[3])/2,y+15.5,{italic:true,size:9.5,color:'#333'});
});
function curve(x1,y1,c1x,c1y,c2x,c2y,x2,y2){G.push({type:'bezierCurve',silent:true,z:100,shape:{x1:x1,y1:y1,x2:x2,y2:y2,cpx1:c1x,cpy1:c1y,cpx2:c2x,cpy2:c2y},style:{stroke:'#111',lineWidth:1.1,fill:null}});}
function head(x,y,dir){const p = dir==='r'?[[x,y],[x-3.5,y-2],[x-3.5,y+2]]:dir==='l'?[[x,y],[x+3.5,y-2],[x+3.5,y+2]]:[[x,y],[x-2.2,y-3.8],[x+2.2,y-3.8]];
  G.push({type:'polygon',silent:true,z:100,shape:{points:p},style:{fill:'#111'}});}
function pline(pts){G.push({type:'polyline',silent:true,z:100,shape:{points:pts},style:{stroke:'#111',lineWidth:1.1,fill:null}});}
// adeL regulation
curve(184,695,185,674,214,672,220,698); Ln(214.5,700,227,696.5,'#111',1.2);
pline([[218.3,701.7],[218.3,715],[223.5,715]]); head(227,715,'r');
// adeN regulation
curve(49,780,50,759,82,758,85,776); Ln(79.5,777.5,91.5,774,'#111',1.2);
pline([[83.3,785],[83.3,798.3],[87.5,798.3]]); head(91,798.3,'r');
// adeRS regulation
Ln(150,845,180,845,'#111',1.3);
curve(166.7,842,170,808,222,808,226,848); head(226,852.5,'d');
pline([[215,854],[215,831.7],[207.5,831.7]]); head(204,831.7,'l');
pline([[220,854],[220,866.7],[225.5,866.7]]); head(229.3,866.7,'r');

const option = {
  animation:false,
  backgroundColor:'#ffffff',
  textStyle:{fontFamily:FONT},
  grid:gridOpts, xAxis:xAxes, yAxis:yAxes,
  visualMap:[{type:'piecewise',show:false,seriesIndex:heatIndex,dimension:2,
    pieces:[{value:1,color:'#4472c4'},{value:2,color:'#c00000'},{value:3,color:'#bfbfbf'}]}],
  series:series,
  graphic:G
};
const chart = echarts.init(document.getElementById('c'),null,{renderer:'canvas',width:759,height:905});
chart.setOption(option);
</script></body></html>
